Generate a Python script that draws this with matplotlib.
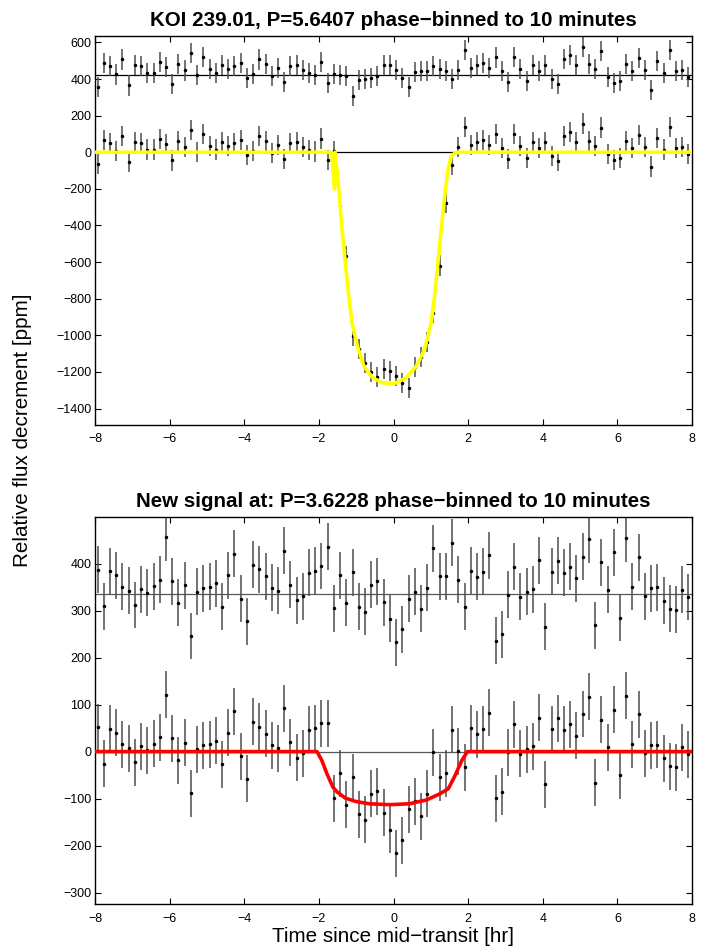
import numpy as np
import matplotlib.pyplot as plt

plt.rcParams['font.family'] = ['Liberation Sans', 'DejaVu Sans']

# 10-minute phase bins (96 of them, -8 hr .. +8 hr)
t_bins = np.arange(96) / 6 - 7.93

# --- KOI 239.01 (top panel) ---
# residuals (upper row, drawn around the offset line)
resid_a = [
    -62, 69, 51, 5, 87, -55, 58, 51, 15, 15,
    73, 45, -45, 62, 27, 122, 0, 102, 36, 15,
    55, 35, 49, 67, -13, 9, 87, 62, -4, 42,
    -36, 51, 56, 29, 11, 4, 75, -40, 7, 4,
    -2, -111, -25, -22, -16, -4, 58, 58,
    29, -16, -64, 18, 24, 24, 49, 35, 24, -18,
    31, 137, 40, 58, 69, 40, 98, 25, -35, 100,
    36, -33, 55, 22, 56, -22, -49, 91, 113, 58,
    157, 62, 35, 135, -9, -44, -31, 62, 25, 95,
    31, -78, 78, 15, 137, 22, 31, -9]
# binned flux inside transit (bins 39..57), outside it equals the residuals
transit_a = [-295, -568, -1002, -1073, -1151, -1200, -1229, -1182, -1195, -1224,
             -1260, -1288, -1173, -1118, -1036, -878, -619, -277, -67]
offset_a = 420
model_t_a = [-8, -1.66, -1.58, -1.565, -1.47, -1.38, -1.29, -1.20, -1.11, -0.97,
             -0.79, -0.56, -0.29, 0.02, 0.34, 0.61, 0.83, 1.01, 1.10, 1.19,
             1.28, 1.37, 1.46, 1.55, 1.64, 1.73, 8]
model_v_a = [0, 0, -200, 0, -186, -422, -604, -786, -932, -1059,
             -1169, -1232, -1260, -1264, -1232, -1169, -1078, -932, -786, -604,
             -422, -240, -95, -22, -5, 0, 0]

# --- new signal (bottom panel) ---
resid_b = [
    52, -26, 49, 40, 16, 7, -23, 11, 3, 17,
    31, 121, 28, -18, 19, -89, 5, 13, 16, 23,
    -27, 40, 86, -10, -58, 63, 53, 38, 14, 7,
    92, 20, -13, -4, 46, 50, 60, 101, -30, 40,
    -18, 47, -27, -37, 20, 28, -17, -52,
    -102, -75, -10, 5, -31, 14, 98, 38, 38, 109,
    31, -27, 50, 37, 48, 83, -99, -85, -1, 58,
    -5, 5, 11, 72, -69, 48, 71, 46, 58, 34,
    80, 117, -66, 68, 9, 89, -50, 119, 16, 79,
    -4, 13, 15, -14, -31, -33, 9, -6]
# binned flux for bins 37..59
transit_b = [60, -99, -46, -113, -55, -133, -145, -90, -84, -130,
             -166, -216, -189, -123, -106, -138, -90, -1, -55, -46,
             47, 1, -33]
offset_b = 335
model_t_b = [-8, -2.05, -1.92, -1.78, -1.62, -1.51, -1.29, -1.02, -0.66, -0.1,
             0.43, 0.88, 1.24, 1.47, 1.65, 1.83, 1.98, 8]
model_v_b = [0, 0, -19, -48, -76, -86, -99, -106, -111, -113,
             -111, -103, -90, -79, -51, -19, 0, 0]

flux_a = np.array(resid_a, dtype=float)
flux_a[39:58] = transit_a
flux_b = np.array(resid_b, dtype=float)
flux_b[37:60] = transit_b


def panel(ax, flux, resid, offset, mt, mv, mcolor, lcolor, err):
    ax.axhline(offset, color=lcolor, lw=0.9, zorder=1)
    ax.axhline(0, color=lcolor, lw=0.9, zorder=1)
    for y in [np.array(resid) + offset, flux]:
        ax.errorbar(t_bins, y, yerr=err, fmt='.', ms=3, color='k',
                    ecolor='0.3', elinewidth=1.1, capsize=0, zorder=2)
    ax.plot(mt, mv, color=mcolor, lw=2.6, zorder=3)
    ax.set_xlim(-8, 8)
    ax.set_xticks(range(-8, 9, 2))
    ax.tick_params(direction='in', top=True, right=True, length=4,
                   labelsize=9, width=0.8)
    ax.tick_params(axis='x', pad=6)
    ax.tick_params(axis='y', pad=2.5)
    for s in ax.spines.values():
        s.set_linewidth(1.0)


fig = plt.figure(figsize=(7.11, 9.48), dpi=100)

ax1 = fig.add_axes([0.1336, 0.5517, 0.8397, 0.4103])
panel(ax1, flux_a, resid_a, offset_a, model_t_a, model_v_a, '#ffff00', 'k', 55)
ax1.set_ylim(-1490, 635)
ax1.set_yticks(range(-1400, 601, 200))
ax1.set_title('KOI 239.01, P=5.6407 phase\u2212binned to 10 minutes',
              fontsize=14.8, fontweight='bold', pad=7)

ax2 = fig.add_axes([0.1336, 0.0461, 0.8397, 0.4089])
panel(ax2, flux_b, resid_b, offset_b, model_t_b, model_v_b, '#ff0000', '0.35', 50)
ax2.set_ylim(-325, 500)
ax2.set_yticks(range(-300, 401, 100))
ax2.set_title('New signal at: P=3.6228 phase\u2212binned to 10 minutes',
              fontsize=14.8, fontweight='bold', pad=7)

fig.text(23 / 711, 1 - 430 / 948, 'Relative flux decrement [ppm]',
         rotation=90, ha='center', va='center', fontsize=14.9)
fig.text(393 / 711, 1 - 936 / 948, 'Time since mid\u2212transit [hr]',
         ha='center', va='center', fontsize=14.9)

fig.savefig('out.png', dpi=100)
